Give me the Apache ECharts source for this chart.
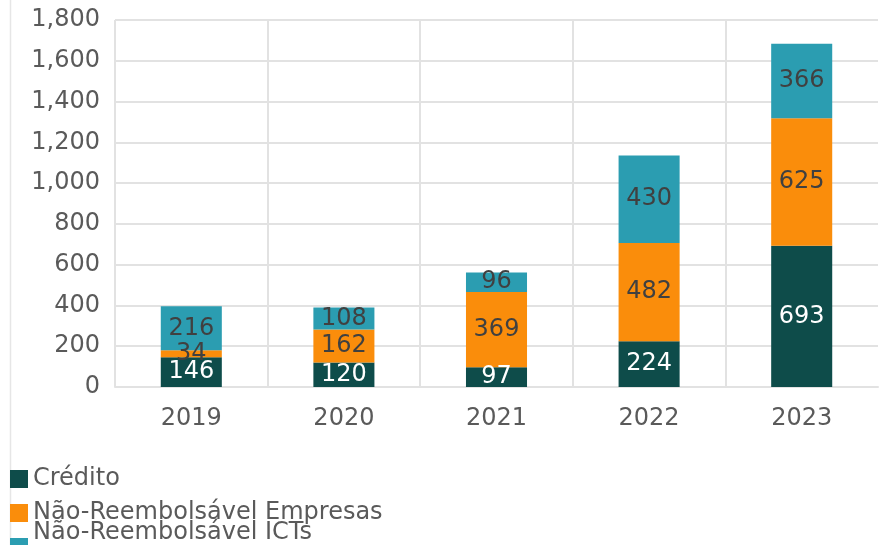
<!DOCTYPE html>
<html>
<head>
<meta charset="utf-8">
<title>Financiamento</title>
<script src="https://cdn.jsdelivr.net/npm/echarts@6/dist/echarts.min.js"></script>
<style>
	html, body { margin: 0; padding: 0; background: #fff; }
	#chart { width: 895px; height: 545px; }
</style>
</head>
<body>
<div id="chart"></div>
<script>
// dados
const anos = ["2019", "2020", "2021", "2022", "2023"];
const credito = [146, 120, 97, 224, 693];
const naoReembEmpresas = [34, 162, 369, 482, 625];
const naoReembICTs = [216, 108, 96, 430, 366];
const nomes = ["Crédito", "Não-Reembolsável Empresas", "Não-Reembolsável ICTs"];
const cores = ["#0e4c4a", "#fa8d0b", "#2b9db1"];

const fonte = "DejaVu Sans";
const corGrade = "#e2e2e2";

let myChart = echarts.init(document.getElementById("chart"));

function serie(nome, dados, cor, corTexto) {
	return {
		name: nome,
		type: "bar",
		stack: "total",
		barWidth: "40%",
		data: dados,
		itemStyle: { color: cor },
		label: {
			show: true,
			position: "inside",
			color: corTexto,
			fontFamily: fonte,
			fontSize: 24,
		},
	};
}

function legenda(i, top, padBaixo) {
	return {
		data: [nomes[i]],
		left: 10,
		top: top,
		padding: 0,
		orient: "vertical",
		icon: "rect",
		itemWidth: 18,
		itemHeight: 18,
		formatter: "{t|{name}}",
		textStyle: {
			fontFamily: fonte,
			fontSize: 24,
			color: "#5a5a5a",
			rich: {
				t: {
					fontFamily: fonte,
					fontSize: 24,
					color: "#5a5a5a",
					lineHeight: 18,
					padding: [0, 0, padBaixo, 0],
				},
			},
		},
	};
}

// a última linha vertical (borda direita) não aparece no original
const coresGradeX = [corGrade, corGrade, corGrade, corGrade, corGrade, "rgba(0,0,0,0)"];

let option = {
	animation: false,
	color: cores,
	grid: {
		left: 115,
		right: 17,
		top: 20,
		bottom: 158,
	},
	legend: [legenda(0, 467, 0), legenda(1, 501, 0), legenda(2, 521, 28)],
	graphic: [
		{
			type: "line",
			shape: { x1: 10.5, y1: 0, x2: 10.5, y2: 545 },
			style: { stroke: "#e6e6e6", lineWidth: 1.5 },
			silent: true,
		},
	],
	xAxis: {
		type: "category",
		data: anos,
		axisLine: { lineStyle: { color: corGrade, width: 2 } },
		axisTick: { show: false },
		axisLabel: {
			color: "#5a5a5a",
			fontFamily: fonte,
			fontSize: 24,
			margin: 20,
		},
		splitLine: {
			show: true,
			lineStyle: { color: coresGradeX, width: 2 },
		},
	},
	yAxis: {
		type: "value",
		min: 0,
		max: 1800,
		interval: 200,
		axisLine: { show: false },
		axisTick: { show: false },
		axisLabel: {
			color: "#5a5a5a",
			fontFamily: fonte,
			fontSize: 24,
			margin: 15,
			formatter: function (v) {
				return v.toLocaleString("en-US");
			},
		},
		splitLine: {
			lineStyle: { color: corGrade, width: 2 },
		},
	},
	series: [
		serie(nomes[0], credito, cores[0], "#ffffff"),
		serie(nomes[1], naoReembEmpresas, cores[1], "#404040"),
		serie(nomes[2], naoReembICTs, cores[2], "#404040"),
	],
};
myChart.setOption(option);
</script>
</body>
</html>
